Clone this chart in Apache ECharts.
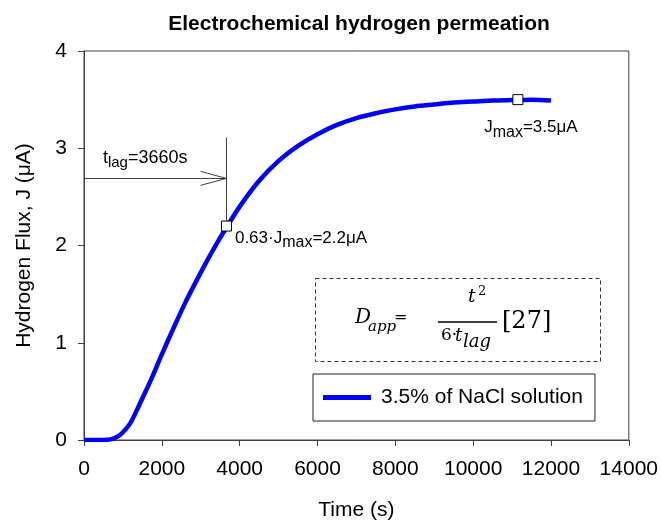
<!DOCTYPE html>
<html>
<head>
<meta charset="utf-8">
<script src="https://cdn.jsdelivr.net/npm/echarts@6/dist/echarts.min.js"></script>
<style>html,body{margin:0;padding:0;background:#fff}#c{width:661px;height:526px}</style>
</head>
<body>
<div id="c"></div>
<script>
// ---- data ----
const timeS = [0, 300, 600, 750, 900, 1000, 1100, 1200, 1350, 1500, 1700, 2000, 2300, 2600, 2900, 3200, 3500, 3660, 4000, 4500, 5000, 5500, 6000, 6500, 7000, 7500, 8000, 8500, 9000, 9500, 10000, 10500, 11000, 11500, 12000];
const fluxUA = [0, 0, 0.003, 0.015, 0.045, 0.08, 0.125, 0.18, 0.3, 0.43, 0.6, 0.88, 1.15, 1.41, 1.645, 1.87, 2.08, 2.185, 2.4, 2.665, 2.87, 3.025, 3.145, 3.24, 3.31, 3.36, 3.40, 3.43, 3.45, 3.47, 3.48, 3.49, 3.495, 3.5, 3.49];
const markerTimes = [3660, 11150];
const markerFlux = [2.2, 3.5];
const tLag = 3660;
const arrowLevel = 2.69;
const lagLineTop = 3.11;
const xTicks = [0, 14000, 2000];
const yTicks = [0, 4, 1];
const seriesName = '3.5% of NaCl solution';

const chart = echarts.init(document.getElementById('c'), null, {renderer: 'canvas'});
const FONT = '"Liberation Sans", Arial, sans-serif';
const SERIF = '"DejaVu Serif", serif';
const lineCol = '#404040';

const lineData = timeS.map((t, i) => [t, fluxUA[i]]);
const markerData = markerTimes.map((t, i) => [t, markerFlux[i]]);

// chevron arrowhead size in data units
const headDx = 667, headDy = 0.072;

const subRich = {
  m: {fontFamily: FONT, fontSize: 17, color: '#000'},
  s: {fontFamily: FONT, fontSize: 16, color: '#000', padding: [9, 0, 0, 0]}
};

const option = {
  animation: false,
  backgroundColor: '#fff',
  title: {
    text: 'Electrochemical hydrogen permeation',
    left: 354, top: 9, textAlign: 'center',
    textStyle: {fontFamily: FONT, fontWeight: 'bold', fontSize: 21, color: '#000'}
  },
  grid: {left: 84, right: 31, top: 51, bottom: 83, show: true, borderColor: lineCol, borderWidth: 1, backgroundColor: 'transparent'},
  legend: {
    data: [seriesName],
    left: 313, top: 374,
    orient: 'horizontal',
    icon: 'rect', itemWidth: 48, itemHeight: 5,
    borderColor: '#222', borderWidth: 1,
    padding: [13, 12, 13, 10],
    textStyle: {fontFamily: FONT, fontSize: 21, color: '#000', padding: [0, 0, 0, 5]}
  },
  xAxis: {
    type: 'value', min: xTicks[0], max: xTicks[1], interval: xTicks[2],
    name: 'Time (s)', nameLocation: 'middle', nameGap: 60,
    nameTextStyle: {fontFamily: FONT, fontSize: 21, color: '#000'},
    axisLine: {show: true, lineStyle: {color: lineCol, width: 1}},
    axisTick: {show: true, inside: false, length: 6, lineStyle: {color: lineCol}},
    axisLabel: {fontFamily: FONT, fontSize: 21, color: '#000', margin: 19, formatter: v => String(v)},
    splitLine: {show: false}
  },
  yAxis: {
    type: 'value', min: yTicks[0], max: yTicks[1], interval: yTicks[2],
    name: 'Hydrogen Flux, J (\u03bcA)', nameLocation: 'middle', nameGap: 49,
    nameTextStyle: {fontFamily: FONT, fontSize: 21, color: '#000'},
    axisLine: {show: true, lineStyle: {color: lineCol, width: 1}},
    axisTick: {show: true, inside: false, length: 6, lineStyle: {color: lineCol}},
    axisLabel: {fontFamily: FONT, fontSize: 21, color: '#000', margin: 17},
    splitLine: {show: false}
  },
  series: [
    {
      name: seriesName, type: 'line', data: lineData,
      showSymbol: false, smooth: 0.3,
      lineStyle: {color: '#0000ff', width: 4.5},
      itemStyle: {color: '#0000ff'},
      z: 3
    },
    {
      name: 'markers', type: 'scatter', symbol: 'rect', symbolSize: 10,
      itemStyle: {color: '#fff', borderColor: '#000', borderWidth: 1, opacity: 1},
      label: {color: '#000', opacity: 1},
      z: 5,
      data: [
        {value: markerData[0], label: {show: true, position: 'right', distance: 3, offset: [0, 12],
          formatter: '{m|0.63\u00b7J}{s|max}{m|=2.2\u03bcA}', rich: subRich}},
        {value: markerData[1], label: {show: true, position: 'bottom', distance: 6, offset: [13, 4],
          formatter: '{m|J}{s|max}{m|=3.5\u03bcA}', rich: subRich}}
      ],
      markLine: {
        silent: true, symbol: ['none', 'none'], animation: false,
        lineStyle: {color: lineCol, width: 1, type: 'solid', opacity: 1},
        data: [
          [{coord: [0, arrowLevel], label: {show: true, position: 'insideMiddleTop', distance: 8, offset: [-10, 0],
              formatter: '{m|t}{s|lag}{m|=3660s}',
              rich: {m: {fontFamily: FONT, fontSize: 18, color: '#000'}, s: {fontFamily: FONT, fontSize: 15, color: '#000', padding: [9, 0, 0, 0]}}}},
           {coord: [tLag, arrowLevel]}],
          [{coord: [tLag, lagLineTop], label: {show: false}}, {coord: [tLag, markerFlux[0]]}],
          [{coord: [tLag - headDx, arrowLevel + headDy], label: {show: false}}, {coord: [tLag, arrowLevel]}],
          [{coord: [tLag - headDx, arrowLevel - headDy], label: {show: false}}, {coord: [tLag, arrowLevel]}]
        ]
      }
    }
  ],
  graphic: [
    {type: 'rect', left: 313, top: 276, z: 10,
      shape: {width: 285, height: 83},
      style: {fill: 'none', stroke: '#333', lineWidth: 1, lineDash: [4, 3]}},
    {type: 'text', x: 355, y: 318, z: 10, style: {text: 'D', font: 'italic 20px ' + SERIF, fill: '#000', align: 'left', verticalAlign: 'middle'}},
    {type: 'text', x: 368, y: 327, z: 10, style: {text: 'app', font: 'italic 15px ' + SERIF, fill: '#000', align: 'left', verticalAlign: 'middle'}},
    {type: 'text', x: 394, y: 318, z: 10, style: {text: '=', font: '16px ' + SERIF, fill: '#000', align: 'left', verticalAlign: 'middle'}},
    {type: 'text', x: 468, y: 297, z: 10, style: {text: 't', font: 'italic 19px ' + SERIF, fill: '#000', align: 'left', verticalAlign: 'middle'}},
    {type: 'text', x: 478, y: 292, z: 10, style: {text: '2', font: '13px ' + SERIF, fill: '#000', align: 'left', verticalAlign: 'middle'}},
    {type: 'line', z: 10, shape: {x1: 438, y1: 322, x2: 497, y2: 322}, style: {stroke: '#000', lineWidth: 1.5}},
    {type: 'text', x: 441, y: 336, z: 10, style: {text: '6\u00b7', font: '17px ' + SERIF, fill: '#000', align: 'left', verticalAlign: 'middle'}},
    {type: 'text', x: 455, y: 336, z: 10, style: {text: 't', font: 'italic 18px ' + SERIF, fill: '#000', align: 'left', verticalAlign: 'middle'}},
    {type: 'text', x: 463, y: 342, z: 10, style: {text: 'lag', font: 'italic 18px ' + SERIF, fill: '#000', align: 'left', verticalAlign: 'middle'}},
    {type: 'text', x: 502, y: 322, z: 10, style: {text: '[27]', font: '24px ' + SERIF, fill: '#000', align: 'left', verticalAlign: 'middle'}}
  ]
};
chart.setOption(option);
</script>
</body>
</html>
